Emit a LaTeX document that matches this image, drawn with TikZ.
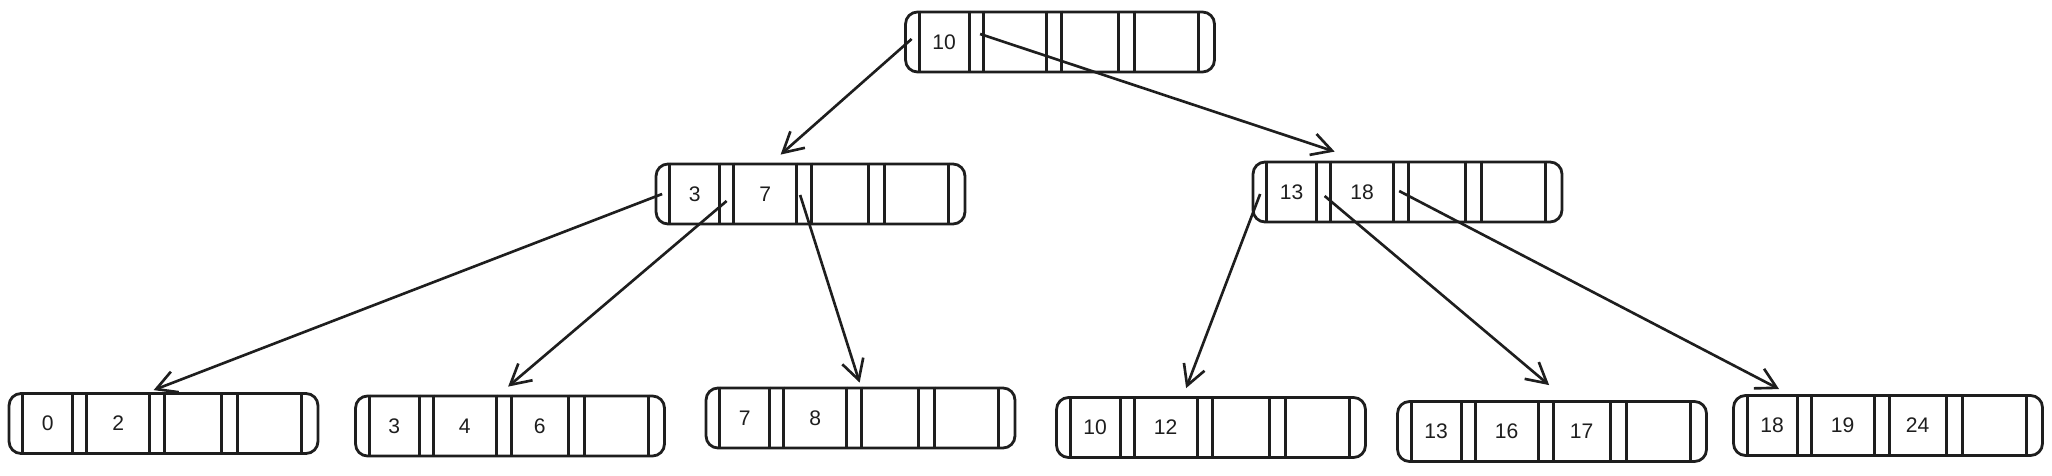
\documentclass[tikz,border=0pt]{standalone}
\usepackage{fontspec}
\setmainfont{Liberation Sans}
\usepackage{tikz}
\usetikzlibrary{arrows.meta,calc}
\definecolor{ink}{HTML}{1E1E1E}
\newcommand{\keycells}[4]{%
  \foreach \xo in {15,65,79,142,157,214,230,294}
    \draw[divider] ($(#1.north west)+(\xo,0)$) -- ($(#1.south west)+(\xo,0)$);
  \node[key] (#1-k1) at ($(#1.west)+(40,0)$) {#2};
  \node[key] (#1-k2) at ($(#1.west)+(110.5,0)$) {#3};
  \node[key] (#1-k3) at ($(#1.west)+(185.5,0)$) {#4};
  \coordinate (#1-p0) at ($(#1.west)+(7.5,0)$);
  \coordinate (#1-p1) at ($(#1.west)+(72,0)$);
  \coordinate (#1-p2) at ($(#1.west)+(149.5,0)$);
}

\begin{document}
\begin{tikzpicture}[
  x=0.02cm,y=-0.02cm,
  bnode/.style={draw=ink,line width=1.6pt,rounded corners=0.24cm,inner sep=0pt,minimum width=6.18cm,minimum height=1.2cm},
  divider/.style={draw=ink,line width=1.6pt},
  key/.style={font=\fontsize{12}{14}\selectfont,text=ink,inner sep=1pt},
  arrow/.style={-{Straight Barb[length=4mm,width=4.4mm]},line width=1.5pt,color=ink}
]
\useasboundingbox (0,0) rectangle (2052,476);
% tree levels
\node[bnode] (root) at (1060,42) {};
\node[bnode] (inL) at (810.5,194) {};
\node[bnode] (inR) at (1407.5,192) {};
\node[bnode] (leafA) at (163.5,423.5) {};
\node[bnode] (leafB) at (510,426) {};
\node[bnode] (leafC) at (860.5,418) {};
\node[bnode] (leafD) at (1211,427.5) {};
\node[bnode] (leafE) at (1552,431.5) {};
\node[bnode] (leafF) at (1888,425.5) {};
\keycells{root}{10}{}{}
\keycells{inL}{3}{7}{}
\keycells{inR}{13}{18}{}
\keycells{leafA}{0}{2}{}
\keycells{leafB}{3}{4}{6}
\keycells{leafC}{7}{8}{}
\keycells{leafD}{10}{12}{}
\keycells{leafE}{13}{16}{17}
\keycells{leafF}{18}{19}{24}
% pointers
\draw[arrow] ($(root-p0)+(0,-3)$) -- ($(inL.north west)+(126,-8)$);
\draw[arrow] ($(root-p1)+(4,-8)$) -- ($(inR.north west)+(83,-9)$);
\draw[arrow] (inL-p0) -- ($(leafA.north west)+(146,-2)$);
\draw[arrow] ($(inL-p1)+(0,7)$) -- ($(leafB.north west)+(154,-8)$);
\draw[arrow] ($(inL-p2)+(-4,1)$) -- ($(leafC.north west)+(155,-4)$);
\draw[arrow] ($(inR-p0)+(1,2)$) -- ($(leafD.north west)+(131,-8)$);
\draw[arrow] ($(inR-p1)+(1,4)$) -- ($(leafE.north west)+(153,-15)$);
\draw[arrow] ($(inR-p2)+(-2,-1)$) -- ($(leafF.north west)+(47,-5)$);
\end{tikzpicture}
\end{document}
